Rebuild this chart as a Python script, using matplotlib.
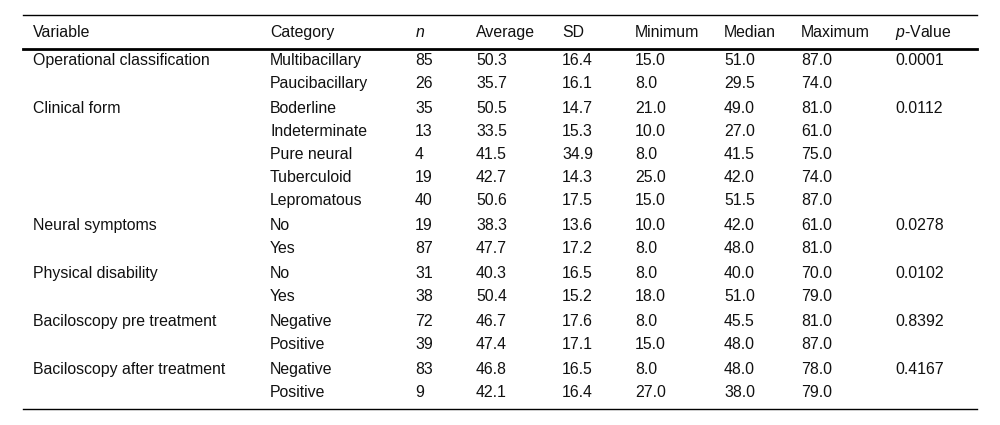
import matplotlib.pyplot as plt
from matplotlib import rcParams

rcParams['font.family'] = 'Liberation Sans'
rcParams['mathtext.fontset'] = 'custom'
rcParams['mathtext.it'] = 'Liberation Sans:italic'
rcParams['mathtext.rm'] = 'Liberation Sans'

headers = ['Variable', 'Category', r'$\mathit{n}$', 'Average', 'SD', 'Minimum',
           'Median', 'Maximum', r'$\mathit{p}$-Value']

variables = ['Operational classification', 'Clinical form', 'Neural symptoms',
             'Physical disability', 'Baciloscopy pre treatment',
             'Baciloscopy after treatment']
categories = [
    ['Multibacillary', 'Paucibacillary'],
    ['Boderline', 'Indeterminate', 'Pure neural', 'Tuberculoid', 'Lepromatous'],
    ['No', 'Yes'],
    ['No', 'Yes'],
    ['Negative', 'Positive'],
    ['Negative', 'Positive'],
]
n_vals = [[85, 26], [35, 13, 4, 19, 40], [19, 87], [31, 38], [72, 39], [83, 9]]
average = [[50.3, 35.7], [50.5, 33.5, 41.5, 42.7, 50.6], [38.3, 47.7],
           [40.3, 50.4], [46.7, 47.4], [46.8, 42.1]]
sd = [[16.4, 16.1], [14.7, 15.3, 34.9, 14.3, 17.5], [13.6, 17.2],
      [16.5, 15.2], [17.6, 17.1], [16.5, 16.4]]
minimum = [[15.0, 8.0], [21.0, 10.0, 8.0, 25.0, 15.0], [10.0, 8.0],
           [8.0, 18.0], [8.0, 15.0], [8.0, 27.0]]
median = [[51.0, 29.5], [49.0, 27.0, 41.5, 42.0, 51.5], [42.0, 48.0],
          [40.0, 51.0], [45.5, 48.0], [48.0, 38.0]]
maximum = [[87.0, 74.0], [81.0, 61.0, 75.0, 74.0, 87.0], [61.0, 81.0],
           [70.0, 79.0], [81.0, 87.0], [78.0, 79.0]]
p_values = ['0.0001', '0.0112', '0.0278', '0.0102', '0.8392', '0.4167']

col_x = [33, 270, 415, 476, 562, 635, 724, 801, 895]
fs = 11.4
tc = '#111111'

fig = plt.figure(figsize=(10, 4.25), dpi=100)
ax = fig.add_axes([0, 0, 1, 1])
ax.set_xlim(0, 1000)
ax.set_ylim(425, 0)
ax.axis('off')

# rules of the table
ax.plot([23, 977], [15, 15], color='black', lw=1.0)
ax.plot([23, 977], [48.8, 48.8], color='black', lw=2.0)
ax.plot([23, 977], [409, 409], color='black', lw=1.0)

for x, h in zip(col_x, headers):
    ax.text(x, 32, h, fontsize=fs, color=tc, va='center', ha='left')

y = 60
for g, var in enumerate(variables):
    ax.text(col_x[0], y, var, fontsize=fs, color=tc, va='center')
    ax.text(col_x[8], y, p_values[g], fontsize=fs, color=tc, va='center')
    for k, cat in enumerate(categories[g]):
        vals = [cat, str(n_vals[g][k]), f'{average[g][k]:.1f}', f'{sd[g][k]:.1f}',
                f'{minimum[g][k]:.1f}', f'{median[g][k]:.1f}', f'{maximum[g][k]:.1f}']
        for x, v in zip(col_x[1:8], vals):
            ax.text(x, y, v, fontsize=fs, color=tc, va='center')
        y += 23.2
    y += 1.6

fig.savefig('out.png', dpi=100)
